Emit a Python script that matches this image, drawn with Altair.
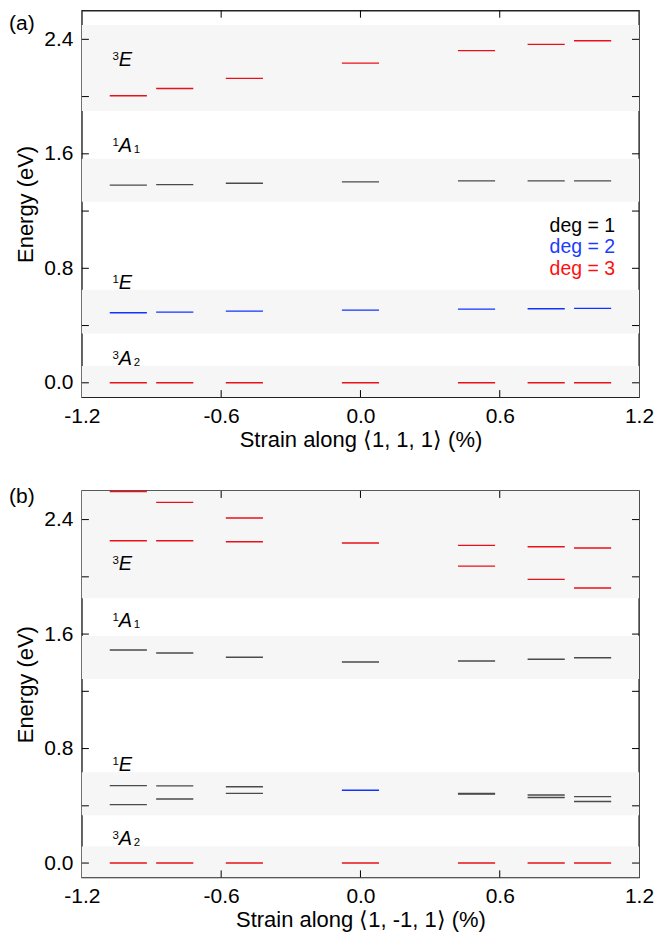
import altair as alt
import pandas as pd

# ---------------- data ----------------
strain = [-1.0, -0.8, -0.5, 0.0, 0.5, 0.8, 1.0]

# (a) strain along <1, 1, 1>
a_3A2 = [0.000, 0.000, 0.000, 0.000, 0.000, 0.000, 0.000]
a_1E = [0.489, 0.494, 0.501, 0.508, 0.515, 0.517, 0.520]
a_1A1 = [1.381, 1.385, 1.394, 1.404, 1.411, 1.411, 1.411]
a_3E = [2.006, 2.056, 2.127, 2.234, 2.321, 2.365, 2.390]
a_3A2_deg = [3, 3, 3, 3, 3, 3, 3]
a_1E_deg = [2, 2, 2, 2, 2, 2, 2]
a_1A1_deg = [1, 1, 1, 1, 1, 1, 1]
a_3E_deg = [3, 3, 3, 3, 3, 3, 3]

# (b) strain along <1, -1, 1>
b_3A2 = [0.000, 0.000, 0.000, 0.000, 0.000, 0.000, 0.000]
b_3A2_deg = [3, 3, 3, 3, 3, 3, 3]
b_1E_hi = [0.541, 0.539, 0.533, 0.509, 0.486, 0.476, 0.464]
b_1E_lo = [0.408, 0.448, 0.487, None, 0.482, 0.458, 0.430]
b_1E_deg = [1, 1, 1, 2, 1, 1, 1]
b_1A1 = [1.489, 1.468, 1.438, 1.405, 1.412, 1.424, 1.435]
b_1A1_deg = [1, 1, 1, 1, 1, 1, 1]
b_3E_hi = [2.596, 2.520, 2.411, 2.236, 2.220, 2.210, 2.201]
b_3E_lo = [2.252, 2.252, 2.245, None, 2.075, 1.982, 1.922]
b_3E_deg = [3, 3, 3, 3, 3, 3, 3]

# shaded state bands (eV)
a_band_lo = [-0.10, 0.345, 1.265, 1.90]
a_band_hi = [0.118, 0.650, 1.565, 2.50]
b_band_lo = [-0.10, 0.334, 1.286, 1.85]
b_band_hi = [0.115, 0.634, 1.586, 2.60]

# state labels (baseline energies)
state_sup = ["3", "1", "1", "3"]
state_main = ["A", "E", "A", "E"]
state_sub = ["2", "", "1", ""]
a_state_E = [0.127, 0.657, 1.616, 2.212]
b_state_E = [0.126, 0.641, 1.651, 2.049]

legend_text = ["deg = 1", "deg = 2", "deg = 3"]
legend_E = [1.055, 0.905, 0.755]

y_label_values = [0.0, 0.8, 1.6, 2.4]
y_tick_values = [0.0, 0.4, 0.8, 1.2, 1.6, 2.0, 2.4]
x_label_values = [-1.2, -0.6, 0.0, 0.6, 1.2]
x_tick_values = [-0.6, 0.0, 0.6]

# ---------------- styling ----------------
W, H = 558, 387
FONT = "Liberation Sans"
LINE_COLORS = ["#4a4a4a", "#1034ff", "#e8101a"]
TEXT_COLORS = ["#000000", "#1a3cff", "#ff1010"]
BAND = "#f6f6f6"
TL = 7  # tick length
LX = 37  # left offset of state labels (px)

xscale = alt.Scale(domain=[-1.2, 1.2], nice=False, zero=False)
yscale = alt.Scale(domain=[-0.1, 2.6], nice=False, zero=False)


def yaxis():
    return alt.Axis(values=y_label_values, format=".1f", ticks=False, domain=False,
                    grid=False, labelFontSize=21, labelFont=FONT, labelColor="black",
                    labelPadding=9, labelOverlap=False, labelFlush=False,
                    title="Energy (eV)", titleFontSize=22, titleFont=FONT,
                    titleFontWeight="normal", titleColor="black", titlePadding=6)


def xaxis(title):
    return alt.Axis(values=x_label_values, ticks=False, domain=False, grid=False,
                    labelExpr="datum.value < 0 ? '-' + format(-datum.value, '.1f') : format(datum.value, '.1f')",
                    labelFontSize=21, labelFont=FONT, labelColor="black",
                    labelPadding=8, labelOverlap=False, labelFlush=False,
                    title=title, titleFontSize=22, titleFont=FONT,
                    titleFontWeight="normal", titleColor="black", titlePadding=3)


def level_rows(levels):
    rows = []
    for vals, degs in levels:
        for s, e, d in zip(strain, vals, degs):
            if e is not None:
                rows.append({"strain": s, "E": e, "deg": d})
    return pd.DataFrame(rows)


def panel(levels, band_lo, band_hi, state_E, tag, tag_y, xtitle, with_legend):
    ldf = level_rows(levels)
    bdf = pd.DataFrame({"lo": band_lo, "hi": band_hi})
    sdf = pd.DataFrame({"sup": state_sup, "main": state_main, "sub": state_sub, "E": state_E})
    ytdf = pd.DataFrame({"v": y_tick_values})
    xtdf = pd.DataFrame({"v": x_tick_values})

    bands = alt.Chart(bdf).mark_rect(color=BAND).encode(
        x=alt.value(0), x2=alt.value(W),
        y=alt.Y("lo:Q", scale=yscale, axis=yaxis()), y2="hi:Q")

    lines = alt.Chart(ldf).transform_calculate(
        x0="datum.strain - 0.08", x1="datum.strain + 0.08"
    ).mark_rule(strokeWidth=1.4).encode(
        x=alt.X("x0:Q", scale=xscale, axis=xaxis(xtitle)), x2="x1:Q",
        y=alt.Y("E:Q", scale=yscale, axis=yaxis()),
        color=alt.Color("deg:N", scale=alt.Scale(domain=[1, 2, 3], range=LINE_COLORS), legend=None))

    lt = alt.Chart(ytdf).mark_rule(color="black", strokeWidth=1).encode(
        y=alt.Y("v:Q", scale=yscale, axis=yaxis()), x=alt.value(0), x2=alt.value(TL))
    rt = alt.Chart(ytdf).mark_rule(color="black", strokeWidth=1).encode(
        y=alt.Y("v:Q", scale=yscale, axis=yaxis()), x=alt.value(W - TL), x2=alt.value(W))
    tt = alt.Chart(xtdf).mark_rule(color="black", strokeWidth=1).encode(
        x=alt.X("v:Q", scale=xscale, axis=xaxis(xtitle)), y=alt.value(0), y2=alt.value(TL))
    bt = alt.Chart(xtdf).mark_rule(color="black", strokeWidth=1).encode(
        x=alt.X("v:Q", scale=xscale, axis=xaxis(xtitle)), y=alt.value(H - TL), y2=alt.value(H))

    main = alt.Chart(sdf).mark_text(align="left", baseline="alphabetic", fontSize=20,
                                    fontStyle="italic", font=FONT, color="black").encode(
        x=alt.value(LX), y=alt.Y("E:Q", scale=yscale, axis=yaxis()), text="main:N")
    sup = alt.Chart(sdf).mark_text(align="right", baseline="alphabetic", fontSize=11.5,
                                   font=FONT, color="black", dx=0, dy=-6).encode(
        x=alt.value(LX), y=alt.Y("E:Q", scale=yscale, axis=yaxis()), text="sup:N")
    sub = alt.Chart(sdf).mark_text(align="left", baseline="alphabetic", fontSize=11.5,
                                   font=FONT, color="black", dx=15, dy=1).encode(
        x=alt.value(LX), y=alt.Y("E:Q", scale=yscale, axis=yaxis()), text="sub:N")

    tagc = alt.Chart(pd.DataFrame({"t": [tag]})).mark_text(
        align="left", baseline="middle", fontSize=21, font=FONT, color="black").encode(
        x=alt.value(-73), y=alt.value(tag_y), text="t:N")

    layers = [bands, lines, lt, rt, tt, bt, main, sup, sub, tagc]
    if with_legend:
        for i in range(3):
            ldf_i = pd.DataFrame({"t": [legend_text[i]], "E": [legend_E[i]]})
            layers.append(alt.Chart(ldf_i).mark_text(
                align="right", baseline="alphabetic", fontSize=19.5, font=FONT,
                color=TEXT_COLORS[i]).encode(
                x=alt.value(W - 24), y=alt.Y("E:Q", scale=yscale, axis=yaxis()), text="t:N"))
    return alt.layer(*layers).properties(width=W, height=H)


pa = panel([(a_3A2, a_3A2_deg), (a_1E, a_1E_deg), (a_1A1, a_1A1_deg), (a_3E, a_3E_deg)],
           a_band_lo, a_band_hi, a_state_E, "(a)", 13.5,
           "Strain along \u27e81, 1, 1\u27e9 (%)", True)
pb = panel([(b_3A2, b_3A2_deg), (b_1E_hi, b_1E_deg), (b_1E_lo, b_1E_deg), (b_1A1, b_1A1_deg),
            (b_3E_hi, b_3E_deg), (b_3E_lo, b_3E_deg)],
           b_band_lo, b_band_hi, b_state_E, "(b)", 6,
           "Strain along \u27e81, -1, 1\u27e9 (%)", False)

chart = alt.vconcat(pa, pb, spacing=94, bounds="flush").properties(
    padding={"left": 0, "top": 0, "right": 0, "bottom": 0}
).configure_view(stroke="#222222", strokeWidth=1.4)

chart.save("out.html", embed_options={"renderer": "svg", "actions": False})
